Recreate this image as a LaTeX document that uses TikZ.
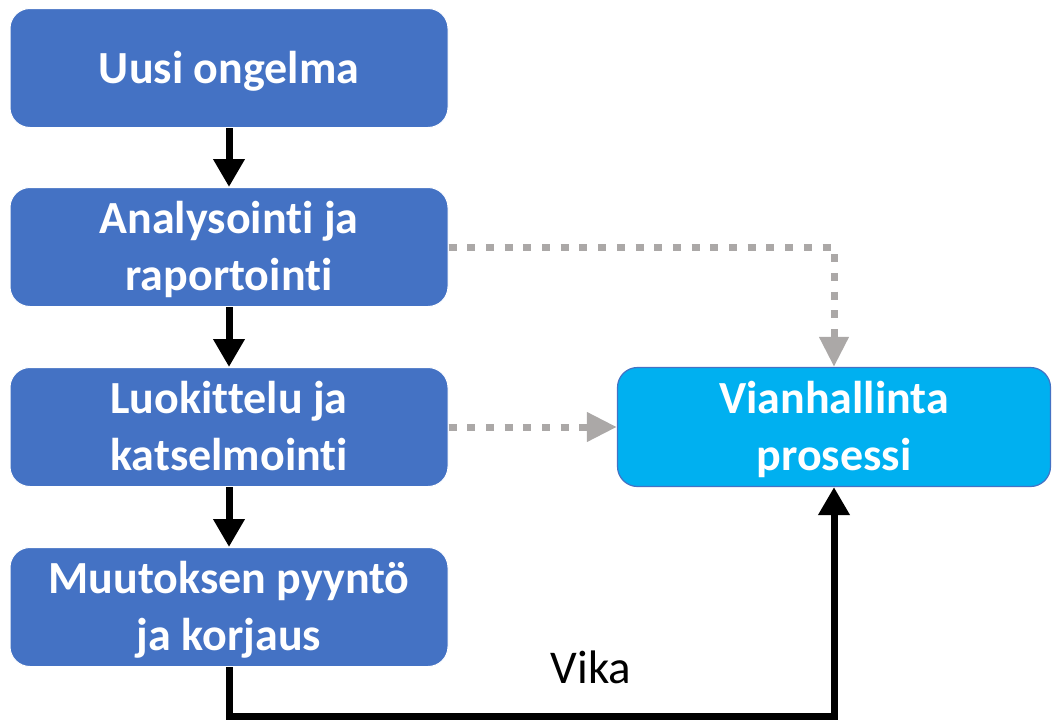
\documentclass[tikz,border=0pt]{standalone}
\usepackage{fontspec}
\setmainfont{Carlito}[Ligatures=NoCommon]
\usetikzlibrary{arrows.meta}
\definecolor{boxblue}{HTML}{4472C4}
\definecolor{procblue}{HTML}{00B0F0}
\definecolor{flowgray}{HTML}{ABA8A7}
% box text: centred lines on fixed struts, set a little low in the box
\newcommand{\steptext}[1]{\raisebox{-4pt}[\height][\depth]{\begin{tabular}{@{}c@{}}#1\end{tabular}}}
\begin{document}
\begin{tikzpicture}[x=1pt,y=-1pt,
  stepbox/.style={rounded corners=20pt, fill=boxblue, draw=white, line width=1pt,
    minimum width=438pt, minimum height=119pt, inner sep=0pt, text=white,
    align=center, font=\fontsize{46}{57}\selectfont\bfseries},
  procbox/.style={stepbox, fill=procblue, draw=boxblue, line width=1.2pt,
    minimum width=433pt},
  mainflow/.style={line width=7pt, draw=black,
    -{Triangle[width=30pt,length=28pt]}},
  sideflow/.style={line width=7pt, draw=flowgray, dash pattern=on 8pt off 10.7pt,
    -{Triangle[width=28pt,length=30pt,fill=flowgray]}}]
\useasboundingbox (0,0) rectangle (1052,720);

% process steps
\node[stepbox] (n1) at (229,68)  {\steptext{Uusi ongelma}};
\node[stepbox] (n2) at (229,247) {\steptext{Analysointi ja\\raportointi}};
\node[stepbox] (n3) at (229,427) {\steptext{Luokittelu ja\\katselmointi}};
\node[stepbox] (n4) at (229,607) {\steptext{Muutoksen pyyntö\\ja korjaus}};
\node[procbox] (vh) at (834,427) {\steptext{Vianhallinta\\prosessi}};

% main flow
\draw[mainflow] (n1) -- (n2);
\draw[mainflow] (n2) -- (n3);
\draw[mainflow] (n3) -- (n4);

% links to the defect process
\draw[sideflow] (n2.east) -| (vh.north);
\draw[sideflow] (n3.east) -- (vh.west);

% defect path
\coordinate (bend) at (530,716.5);
\draw[mainflow, line join=miter] (n4.south) |- (bend) -| (vh.south);
\node[anchor=base, font=\fontsize{47}{56}\selectfont] (vika) at (591,683) {Vika};
\end{tikzpicture}
\end{document}
